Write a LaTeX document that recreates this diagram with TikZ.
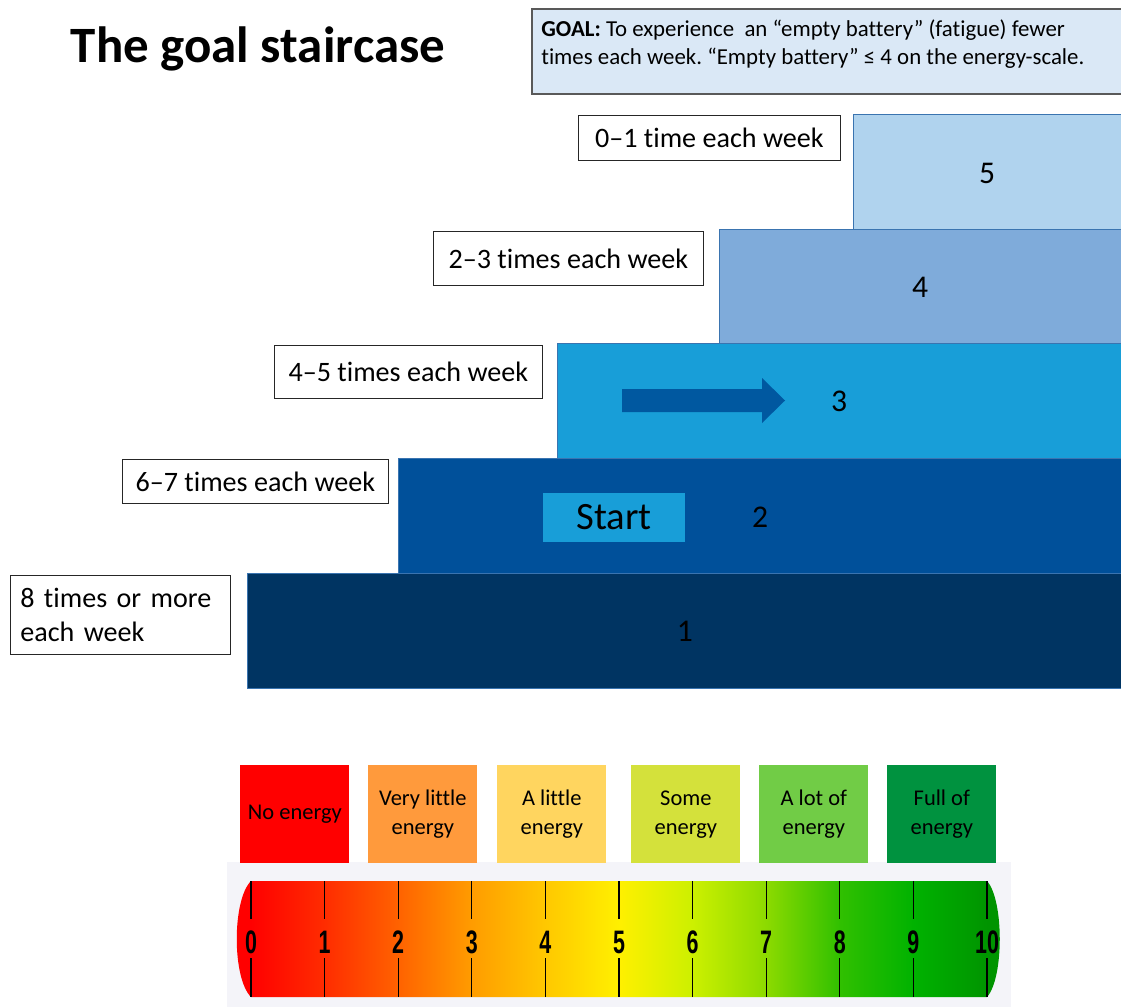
\documentclass[tikz,border=0pt]{standalone}
\usepackage{fontspec}
\setmainfont{Carlito}[Ligatures=NoCommon]
\newfontfamily\scalenum[FakeStretch=0.66]{Liberation Sans}
\usetikzlibrary{positioning}
\frenchspacing

\definecolor{stepone}{HTML}{003462}
\definecolor{steptwo}{HTML}{00509A}
\definecolor{stepthree}{HTML}{189ED8}
\definecolor{stepfour}{HTML}{7FABDA}
\definecolor{stepfive}{HTML}{B0D3EE}
\definecolor{stepedge}{HTML}{3A74B0}
\definecolor{arrowblue}{HTML}{0058A0}
\definecolor{goalfill}{HTML}{DAE8F6}
\definecolor{scalebg}{HTML}{F4F4F9}
\definecolor{boxred}{HTML}{FF0000}
\definecolor{boxorange}{HTML}{FF9A3C}
\definecolor{boxyellow}{HTML}{FFD55F}
\definecolor{boxlime}{HTML}{D4E13B}
\definecolor{boxgreen}{HTML}{71CC46}
\definecolor{boxdark}{HTML}{00923F}
\definecolor{sc0}{HTML}{FF0000}
\definecolor{sc1}{HTML}{FF2C00}
\definecolor{sc2}{HTML}{FF6200}
\definecolor{sc3}{HTML}{FF9C00}
\definecolor{sc4}{HTML}{FFC800}
\definecolor{sc5}{HTML}{FFF000}
\definecolor{sc6}{HTML}{CCF000}
\definecolor{sc7}{HTML}{8CDA00}
\definecolor{sc8}{HTML}{30C000}
\definecolor{sc9}{HTML}{00B200}
\definecolor{sc10}{HTML}{009400}
\pgfdeclarehorizontalshading{energyscale}{100bp}{color(0bp)=(sc0); color(26.5bp)=(sc0);
  color(31.2bp)=(sc1); color(35.9bp)=(sc2); color(40.6bp)=(sc3); color(45.3bp)=(sc4);
  color(50bp)=(sc5); color(54.7bp)=(sc6); color(59.4bp)=(sc7); color(64.1bp)=(sc8);
  color(68.8bp)=(sc9); color(73.5bp)=(sc10); color(100bp)=(sc10)}

\begin{document}
\begin{tikzpicture}[x=0.02cm, y=-0.02cm,
  rung/.style={draw=black!85, fill=white, anchor=north west, inner xsep=0.2cm,
    font=\fontsize{16}{19}\selectfont},
  stepnum/.style={font=\fontsize{18}{20}\selectfont, text=black},
  energybox/.style={anchor=north west, minimum width=2.18cm, minimum height=1.96cm, inner sep=0pt,
    align=center, font=\fontsize{12.8}{16.4}\selectfont},
  tick/.style={line width=0.7pt, black}]
\useasboundingbox (0,0) rectangle (1121,1007);

\node[font=\fontsize{29}{32}\selectfont\bfseries] (title) at (258,49) {The goal staircase};
\node[draw=black!65, line width=1pt, fill=goalfill, anchor=north west, minimum width=11.8cm,
  minimum height=1.7cm] (goalbg) at (531,8) {};
\node[anchor=north west, align=left, inner sep=0pt, font=\fontsize{13}{16}\selectfont] (goal) at (541,19)
  {\textbf{GOAL:} To experience\ \ an “empty battery” (fatigue) fewer\\times each week. “Empty battery” ≤ 4 on the energy-scale.};

\filldraw[fill=stepone, draw=stepedge, line width=0.5pt] (247,573) rectangle (1122,688);
\filldraw[fill=steptwo, draw=stepedge, line width=0.5pt] (398,458) rectangle (1122,573);
\filldraw[fill=stepthree, draw=stepedge, line width=0.5pt] (557,343) rectangle (1122,458);
\filldraw[fill=stepfour, draw=stepedge, line width=0.5pt] (719,229) rectangle (1122,343);
\filldraw[fill=stepfive, draw=stepedge, line width=0.5pt] (853,114) rectangle (1122,229);

\node[stepnum] (sone) at (685,631) {1};
\node[stepnum] (stwo) at (760,517) {2};
\node[stepnum] (sthree) at (839,401) {3};
\node[stepnum] (sfour) at (920,287) {4};
\node[stepnum] (sfive) at (987,173) {5};

\node[fill=stepthree, minimum width=2.84cm, minimum height=0.98cm, font=\fontsize{22}{24}\selectfont]
  (start) at (614,517.5) {Start};
\fill[arrowblue] (622,389) -- (762,389) -- (762,378) -- (785,400.5) -- (762,423) -- (762,412) -- (622,412) -- cycle;

\node[rung, minimum width=5.24cm, minimum height=0.9cm] (lfive) at (578,115) {0–1 time each week};
\node[rung, minimum width=5.4cm, minimum height=1.08cm] (lfour) at (433,231) {2–3 times each week};
\node[rung, minimum width=5.36cm, minimum height=1.06cm] (lthree) at (274,345) {4–5 times each week};
\node[rung, minimum width=5.32cm, minimum height=0.88cm] (ltwo) at (122,459) {6–7 times each week};
\node[rung, text width=4.0cm, align=left, minimum height=1.58cm] (lone) at (10,575) {8 times or more\\each week};

\fill[scalebg] (227,862) rectangle (1011,1007);
\foreach \x/\c/\t [count=\i] in {240/boxred/No energy, 368/boxorange/Very little\\energy,
  497/boxyellow/A little\\energy, 631/boxlime/Some\\energy, 759/boxgreen/A lot of\\energy,
  887/boxdark/Full of\\energy}
  \node[energybox, fill=\c] (e\i) at (\x,765) {\t};

\begin{scope}
\clip (251,881) .. controls (232,900) and (232,978) .. (251,997) -- (987,997)
  .. controls (1004,978) and (1004,900) .. (987,881) -- cycle;
\shade[shading=energyscale] (227,881) rectangle (1011,997);
\end{scope}
\foreach \k in {0,...,10} {
  \draw[tick] ({251+73.6*\k},881) -- ({251+73.6*\k},919);
  \draw[tick] ({251+73.6*\k},958) -- ({251+73.6*\k},997);
  \node[font=\scalenum\bfseries\fontsize{18.5}{20}\selectfont] (n\k) at ({251+73.6*\k},942) {\k};
}
\end{tikzpicture}
\end{document}
